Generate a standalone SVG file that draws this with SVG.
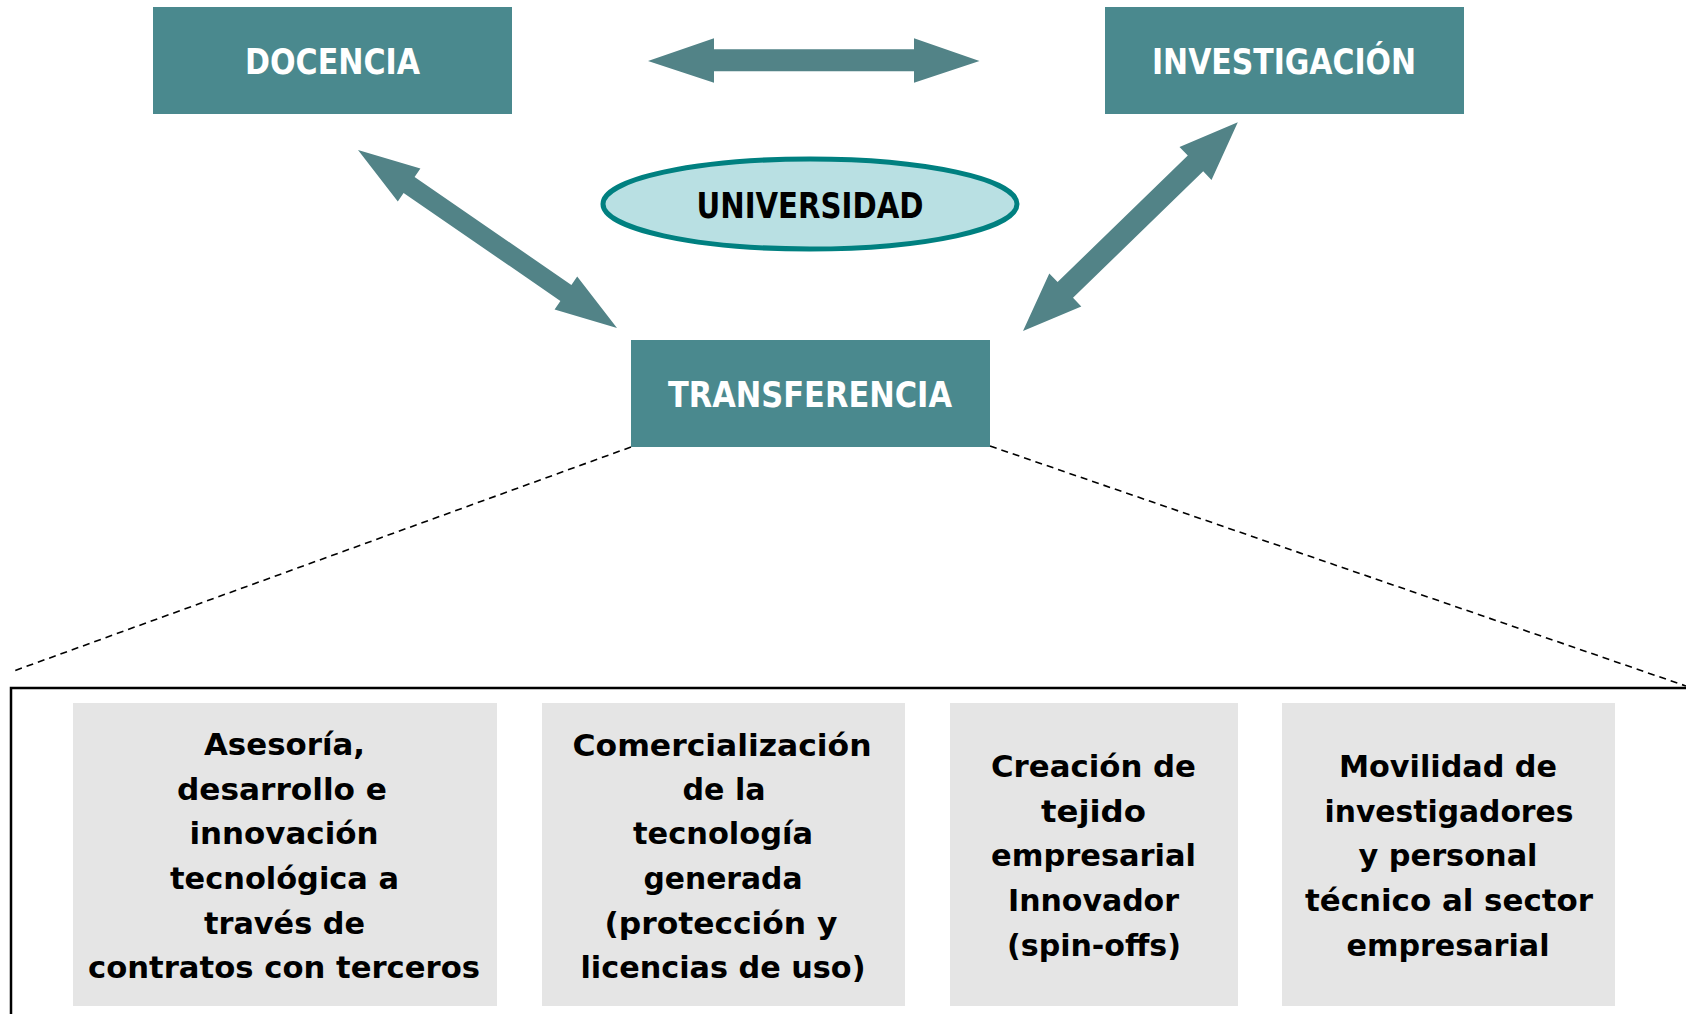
<svg xmlns="http://www.w3.org/2000/svg" width="1686" height="1014" viewBox="0 0 1686 1014">
<style>
.box{fill:#4A898E}
.hdr{font-family:"DejaVu Sans Condensed","Liberation Sans Narrow","DejaVu Sans",sans-serif;font-weight:bold;font-size:36px;fill:#fff;text-anchor:middle}
.arr{fill:#528387}
.dash{stroke:#000;stroke-width:1.6;stroke-dasharray:7 5;fill:none}
.gray{fill:#E5E5E5}
.t{font-family:"DejaVu Sans Condensed","Liberation Sans Narrow","DejaVu Sans",sans-serif;font-weight:bold;font-size:30px;fill:#000;text-anchor:middle}
</style>
<rect width="1686" height="1014" fill="#fff"/>
<g id="connectors">
<polygon class="arr" points="648,61 714,38.3 714,49.3 914,49.3 914,38.3 979.5,61 914,82.7 914,71.3 714,71.3 714,82.7"/>
<polygon class="arr" points="358,150 420.4,168.6 414.6,177.1 571.4,284.9 577.2,276.4 617,328 554.6,309.4 560.4,300.9 403.6,193.1 397.8,201.6"/>
<polygon class="arr" points="1237.8,122.3 1211.5,179.9 1203.2,171.3 1073,297.8 1081.3,306.4 1023,331 1049.3,273.4 1057.6,282 1187.8,155.5 1179.5,146.9"/>
<line class="dash" x1="631" y1="447" x2="11" y2="672"/>
<line class="dash" x1="990" y1="446" x2="1686" y2="686"/>
</g>
<g id="docencia">
<rect class="box" x="153" y="7" width="359" height="107"/>
<text class="hdr" x="332.5" y="74" textLength="175" lengthAdjust="spacingAndGlyphs">DOCENCIA</text>
</g>
<g id="investigacion">
<rect class="box" x="1105" y="7" width="359" height="107"/>
<text class="hdr" x="1284" y="74" textLength="264" lengthAdjust="spacingAndGlyphs">INVESTIGACIÓN</text>
</g>
<g id="universidad">
<ellipse cx="810" cy="204" rx="207" ry="45" fill="#B9E0E3" stroke="#008080" stroke-width="5"/>
<text class="hdr" x="810" y="218" style="fill:#000" textLength="227" lengthAdjust="spacingAndGlyphs">UNIVERSIDAD</text>
</g>
<g id="transferencia">
<rect class="box" x="631" y="340" width="359" height="107"/>
<text class="hdr" x="810" y="407" textLength="284" lengthAdjust="spacingAndGlyphs">TRANSFERENCIA</text>
</g>
<g id="frame">
<rect x="11" y="688" width="1720" height="400" fill="none" stroke="#000" stroke-width="2.5"/>
</g>
<g id="asesoria">
<rect class="gray" x="73" y="703" width="424" height="303"/>
<text class="t" x="284.5" y="755" textLength="161" lengthAdjust="spacingAndGlyphs">Asesoría,</text>
<text class="t" x="282" y="800" textLength="210" lengthAdjust="spacingAndGlyphs">desarrollo e</text>
<text class="t" x="284" y="844" textLength="189" lengthAdjust="spacingAndGlyphs">innovación</text>
<text class="t" x="284.5" y="889" textLength="229" lengthAdjust="spacingAndGlyphs">tecnológica a</text>
<text class="t" x="284.5" y="934" textLength="161" lengthAdjust="spacingAndGlyphs">través de</text>
<text class="t" x="284" y="978" textLength="392" lengthAdjust="spacingAndGlyphs">contratos con terceros</text>
</g>
<g id="comercializacion">
<rect class="gray" x="542" y="703" width="363" height="303"/>
<text class="t" x="722" y="756" textLength="299" lengthAdjust="spacingAndGlyphs">Comercialización</text>
<text class="t" x="724" y="800" textLength="83" lengthAdjust="spacingAndGlyphs">de la</text>
<text class="t" x="723" y="844" textLength="180" lengthAdjust="spacingAndGlyphs">tecnología</text>
<text class="t" x="723" y="889" textLength="159" lengthAdjust="spacingAndGlyphs">generada</text>
<text class="t" x="721" y="934" textLength="233" lengthAdjust="spacingAndGlyphs">(protección y</text>
<text class="t" x="723" y="978" textLength="285" lengthAdjust="spacingAndGlyphs">licencias de uso)</text>
</g>
<g id="creacion">
<rect class="gray" x="950" y="703" width="288" height="303"/>
<text class="t" x="1093.5" y="777" textLength="205" lengthAdjust="spacingAndGlyphs">Creación de</text>
<text class="t" x="1093.5" y="822" textLength="105" lengthAdjust="spacingAndGlyphs">tejido</text>
<text class="t" x="1093.5" y="866" textLength="205" lengthAdjust="spacingAndGlyphs">empresarial</text>
<text class="t" x="1093.5" y="911" textLength="171" lengthAdjust="spacingAndGlyphs">Innovador</text>
<text class="t" x="1094" y="956" textLength="174" lengthAdjust="spacingAndGlyphs">(spin-offs)</text>
</g>
<g id="movilidad">
<rect class="gray" x="1282" y="703" width="333" height="303"/>
<text class="t" x="1448" y="777" textLength="218" lengthAdjust="spacingAndGlyphs">Movilidad de</text>
<text class="t" x="1449" y="822" textLength="249" lengthAdjust="spacingAndGlyphs">investigadores</text>
<text class="t" x="1448" y="866" textLength="179" lengthAdjust="spacingAndGlyphs">y personal</text>
<text class="t" x="1449" y="911" textLength="288" lengthAdjust="spacingAndGlyphs">técnico al sector</text>
<text class="t" x="1448" y="956" textLength="203" lengthAdjust="spacingAndGlyphs">empresarial</text>
</g>
</svg>
